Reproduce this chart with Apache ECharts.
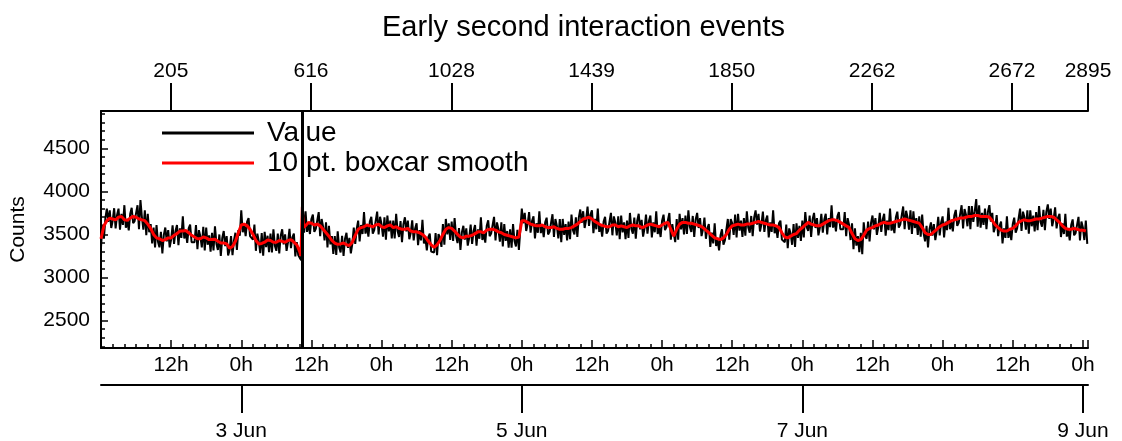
<!DOCTYPE html>
<html>
<head>
<meta charset="utf-8">
<script src="https://cdn.jsdelivr.net/npm/echarts@6/dist/echarts.min.js"></script>
<style>
html,body{margin:0;padding:0;background:#fff;}
#chart{width:1122px;height:441px;}
</style>
</head>
<body>
<div id="chart"></div>
<script>
// ---- data ----
const titleText = 'Early second interaction events';
const seriesNames = ['Value', '10 pt. boxcar smooth'];
const rangeHours = [0, 168.875];           // 2 Jun 00:00 -> 9 Jun ~00:52
const indexRange = [0, 2895];
const rawStepHours = 0.25;
const rawValues = [
3350,3615,3450,3690, 3800,3645,3780,3575, 3660,3805,3570,3725, 3800,3555,3740,3610,
3840,3578,3655,3548, 3740,3810,3630,3655, 3640,3840,3560,3900, 3700,3555,3780,3490,
3740,3525,3620,3395, 3580,3350,3610,3415, 3350,3530,3280,3495, 3580,3420,3550,3350,
3440,3605,3390,3540, 3610,3375,3570,3460, 3710,3453,3535,3403, 3570,3615,3410,3430,
3410,3610,3330,3550, 3480,3350,3590,3315, 3580,3380,3490,3300, 3520,3313,3595,3393,
3320,3500,3250,3460, 3540,3365,3480,3255, 3320,3480,3260,3430, 3520,3320,3550,3485,
3780,3525,3610,3480, 3650,3690,3480,3480, 3440,3615,3310,3510, 3420,3283,3515,3253,
3530,3353,3485,3293, 3510,3290,3560,3370, 3310,3510,3280,3485, 3560,3385,3500,3310,
3410,3565,3340,3465, 3510,3245,3410,3260, 3230,3200,3860,3520, 3770,3530,3630,3505,
3680,3730,3530,3565, 3560,3760,3480,3680, 3590,3430,3640,3350, 3600,3385,3480,3275,
3480,3263,3535,3348, 3290,3485,3250,3450, 3520,3345,3460,3280, 3390,3580,3390,3565,
3660,3420,3610,3505, 3760,3510,3600,3475, 3650,3705,3510,3550, 3550,3765,3500,3705,
3620,3475,3700,3440, 3720,3535,3660,3455, 3660,3455,3740,3540, 3470,3655,3410,3620,
3700,3535,3660,3445, 3520,3665,3430,3570, 3630,3375,3550,3430, 3670,3395,3460,3315,
3470,3510,3300,3315, 3290,3515,3260,3505, 3460,3355,3620,3380, 3680,3500,3630,3435,
3650,3425,3690,3480, 3400,3575,3320,3525, 3600,3440,3570,3370, 3460,3615,3390,3540,
3610,3370,3560,3450, 3700,3435,3510,3405, 3600,3665,3480,3510, 3500,3705,3430,3640,
3560,3415,3640,3360, 3620,3425,3540,3345, 3560,3345,3620,3425, 3360,3555,3320,3300,
3800,3630,3750,3540, 3620,3760,3520,3655, 3710,3455,3630,3520, 3770,3515,3600,3470,
3640,3695,3500,3530, 3520,3735,3470,3680, 3600,3455,3680,3410, 3680,3495,3620,3430,
3650,3445,3730,3550, 3500,3700,3470,3695, 3790,3635,3770,3575, 3670,3825,3600,3730,
3780,3515,3680,3560, 3800,3530,3600,3475, 3650,3705,3510,3540, 3530,3750,3490,3710,
3640,3490,3710,3445, 3720,3525,3640,3445, 3660,3460,3750,3565, 3510,3695,3450,3660,
3740,3560,3670,3475, 3570,3730,3510,3655, 3720,3465,3640,3525, 3770,3505,3580,3470,
3660,3730,3550,3585, 3580,3750,3440,3620, 3510,3410,3680,3440, 3740,3560,3690,3500,
3720,3505,3780,3590, 3530,3715,3470,3675, 3750,3575,3690,3480, 3560,3695,3450,3575,
3620,3355,3520,3395, 3630,3365,3440,3315, 3490,3560,3380,3430, 3440,3680,3440,3680,
3630,3495,3730,3465, 3740,3545,3660,3470, 3690,3485,3770,3580, 3520,3715,3480,3695,
3780,3615,3740,3535, 3620,3765,3530,3665, 3720,3465,3640,3530, 3780,3515,3590,3460,
3630,3660,3440,3445, 3410,3615,3340,3570, 3510,3380,3620,3355, 3630,3460,3600,3425,
3660,3465,3760,3585, 3540,3720,3470,3675, 3750,3575,3690,3490, 3580,3740,3520,3670,
3740,3500,3690,3585, 3840,3580,3660,3535, 3710,3760,3560,3580, 3560,3760,3480,3690,
3610,3435,3630,3330, 3570,3370,3480,3295, 3520,3270,3640,3480, 3450,3650,3420,3635,
3720,3560,3690,3495, 3590,3750,3530,3675, 3740,3485,3660,3550, 3800,3545,3630,3515,
3700,3765,3580,3615, 3610,3825,3560,3775, 3700,3555,3780,3505, 3770,3575,3690,3495,
3710,3475,3730,3510, 3420,3600,3350,3560, 3640,3485,3620,3435, 3540,3705,3490,3640,
3710,3465,3650,3550, 3810,3560,3650,3535, 3720,3785,3600,3635, 3630,3840,3570,3795,
3730,3595,3830,3560, 3830,3645,3770,3910, 3590,3840,3580,3750, 3610,3800,3560,3765,
3840,3650,3750,3525, 3590,3725,3480,3600, 3650,3395,3570,3460, 3710,3460,3550,3435,
3620,3695,3520,3570, 3580,3800,3540,3765, 3700,3555,3780,3510, 3780,3595,3720,3535,
3760,3550,3830,3645, 3590,3785,3550,3765, 3850,3680,3800,3595, 3680,3815,3570,3695,
3740,3470,3630,3505, 3740,3475,3550,3430, 3610,3675,3490,3515, 3500,3705,3430,3650,
3580,3435,3660,3390
];
const smoothStepHours = 0.5;
const smoothValues = [
3450,3600, 3660,3690, 3680,3670, 3700,3710, 3670,3665, 3690,3710, 3700,3680, 3670,3660, 3620,3570, 3500,3460,
3450,3430, 3440,3460, 3460,3490, 3510,3540, 3540,3545, 3520,3490, 3470,3450, 3450,3470, 3460,3440, 3440,3445,
3420,3400, 3400,3390, 3340,3360, 3420,3520, 3610,3620, 3600,3560, 3500,3430, 3390,3395, 3410,3435, 3430,3410,
3410,3430, 3420,3410, 3430,3440, 3410,3380, 3300,3720, 3600,3640, 3630,3610, 3620,3600, 3560,3520, 3480,3430,
3400,3385, 3390,3400, 3380,3370, 3410,3490, 3560,3580, 3590,3610, 3600,3590, 3610,3620, 3590,3580, 3600,3610,
3580,3590, 3570,3560, 3560,3570, 3540,3530, 3530,3520, 3500,3470, 3420,3380, 3350,3380, 3430,3500, 3560,3580,
3570,3540, 3500,3470, 3460,3480, 3480,3490, 3510,3530, 3530,3520, 3550,3560, 3560,3550, 3530,3520, 3500,3490,
3480,3470, 3460,3470, 3660,3660, 3640,3620, 3610,3600, 3600,3610, 3590,3580, 3580,3590, 3570,3560, 3560,3570,
3570,3580, 3600,3620, 3650,3680, 3690,3700, 3680,3650, 3630,3610, 3600,3590, 3590,3610, 3610,3590, 3600,3590,
3580,3600, 3610,3600, 3600,3580, 3590,3610, 3620,3610, 3600,3590, 3610,3630, 3640,3560, 3480,3560, 3620,3640,
3640,3630, 3630,3620, 3610,3600, 3580,3550, 3520,3490, 3460,3450, 3440,3460, 3500,3560, 3600,3610, 3620,3610,
3610,3620, 3620,3630, 3640,3650, 3640,3630, 3620,3610, 3610,3600, 3580,3520, 3470,3460, 3480,3500, 3510,3550,
3580,3610, 3640,3620, 3610,3600, 3600,3620, 3640,3660, 3670,3670, 3660,3640, 3620,3600, 3580,3510, 3450,3430,
3440,3490, 3550,3570, 3580,3600, 3610,3630, 3640,3630, 3630,3640, 3650,3660, 3670,3680, 3670,3660, 3650,3640,
3630,3580, 3520,3500, 3500,3530, 3560,3590, 3610,3620, 3640,3660, 3670,3680, 3690,3690, 3700,3710, 3710,3720,
3720,3710, 3710,3710, 3700,3660, 3610,3580, 3550,3540, 3540,3560, 3570,3600, 3640,3660, 3670,3660, 3660,3670,
3680,3680, 3690,3700, 3710,3710, 3700,3670, 3640,3600, 3570,3560, 3560,3570, 3560,3550, 3550,3540
];
const spikeHours = [34.2, 34.45, 34.7];
const spikeValues = [3250, 3820, 3580];
const markerHour = 34.4;
const topTickValues = [205, 616, 1028, 1439, 1850, 2262, 2672, 2895];
const dateTickHours = [24, 72, 120, 168];
const dateLabels = ['3 Jun', '5 Jun', '7 Jun', '9 Jun'];
const yRange = [2180, 4935];
const yLabelValues = [2500, 3000, 3500, 4000, 4500];
const yMinorStep = 100;

// ---- build ----
const rawData = rawValues.map((v, i) => [i * rawStepHours, v]);
const smoothData = smoothValues.map((v, i) => [i * smoothStepHours, v])
  .concat(spikeHours.map((h, i) => [h, spikeValues[i]]))
  .sort((a, b) => a[0] - b[0]);
const yMinorTicks = [];
for (let v = Math.ceil(yRange[0] / yMinorStep) * yMinorStep; v <= yRange[1]; v += yMinorStep) yMinorTicks.push(v);

const FONT = 'Liberation Sans';
const axisLineStyle = { color: '#000', width: 2 };
const plain = v => String(Math.round(v));
const chart = echarts.init(document.getElementById('chart'), null, { renderer: 'canvas' });
chart.setOption({
  animation: false,
  backgroundColor: '#fff',
  textStyle: { fontFamily: FONT, color: '#000' },
  title: {
    text: titleText, left: 382, top: 13, padding: 0,
    textStyle: { fontFamily: FONT, fontSize: 29, fontWeight: 'normal', color: '#000' }
  },
  legend: {
    left: 157, top: 114, orient: 'vertical', icon: 'rect',
    itemWidth: 92, itemHeight: 3, itemGap: 2,
    textStyle: { fontFamily: FONT, fontSize: 28, color: '#000', lineHeight: 28, padding: [0, 0, 0, 8] },
    data: seriesNames
  },
  grid: { left: 101, right: 34, top: 111, bottom: 93, containLabel: false, outerBoundsMode: 'none' },
  xAxis: [
    {
      type: 'value', min: rangeHours[0], max: rangeHours[1], interval: 12, position: 'bottom',
      axisLine: { show: true, onZero: false, lineStyle: axisLineStyle },
      axisTick: { show: true, inside: true, length: 8, lineStyle: { color: '#000', width: 1.5 } },
      minorTick: { show: true, splitNumber: 6, length: 4, lineStyle: { color: '#000', width: 1.5 } },
      splitLine: { show: false }, minorSplitLine: { show: false },
      axisLabel: {
        showMinLabel: false, showMaxLabel: false, margin: 7,
        fontFamily: FONT, fontSize: 21, color: '#000',
        formatter: v => (Math.round(v) % 24 === 0 ? '0h' : '12h')
      }
    },
    {
      type: 'value', min: rangeHours[0], max: rangeHours[1], position: 'bottom', offset: 37,
      axisLine: { show: true, onZero: false, lineStyle: axisLineStyle },
      axisTick: { show: true, inside: false, length: 28, customValues: dateTickHours, lineStyle: { color: '#000', width: 2 } },
      splitLine: { show: false },
      axisLabel: {
        customValues: dateTickHours, margin: 36,
        fontFamily: FONT, fontSize: 21, color: '#000',
        formatter: v => dateLabels[dateTickHours.indexOf(Math.round(v))] || ''
      }
    },
    {
      type: 'value', min: indexRange[0], max: indexRange[1], position: 'top',
      axisLine: { show: true, onZero: false, lineStyle: axisLineStyle },
      axisTick: { show: true, inside: false, length: 28, customValues: topTickValues, lineStyle: { color: '#000', width: 2 } },
      splitLine: { show: false },
      axisLabel: {
        customValues: topTickValues, margin: 29, formatter: plain,
        fontFamily: FONT, fontSize: 21, color: '#000'
      }
    }
  ],
  yAxis: [
    {
      type: 'value', min: yRange[0], max: yRange[1], position: 'left',
      name: 'Counts', nameLocation: 'middle', nameGap: 72, nameRotate: 90,
      nameTextStyle: { fontFamily: FONT, fontSize: 21, color: '#000' },
      axisLine: { show: true, onZero: false, lineStyle: axisLineStyle },
      axisTick: { show: true, inside: true, length: 7, customValues: yLabelValues, lineStyle: { color: '#000', width: 1.5 } },
      splitLine: { show: false },
      axisLabel: { customValues: yLabelValues, margin: 11, formatter: plain, fontFamily: FONT, fontSize: 21, color: '#000' }
    },
    {
      type: 'value', min: yRange[0], max: yRange[1], position: 'left', offset: 0,
      axisLine: { show: false },
      axisTick: { show: true, inside: true, length: 4, customValues: yMinorTicks, lineStyle: { color: '#000', width: 1.5 } },
      splitLine: { show: false },
      axisLabel: { show: false }
    }
  ],
  series: [
    {
      name: seriesNames[0], type: 'line', xAxisIndex: 0, yAxisIndex: 0,
      data: rawData, showSymbol: false, symbol: 'none', color: '#000',
      lineStyle: { color: '#000', width: 2 },
      markLine: {
        silent: true, symbol: ['none', 'none'], label: { show: false },
        lineStyle: { color: '#000', width: 3, type: 'solid' },
        data: [{ xAxis: markerHour }]
      },
      z: 2
    },
    {
      name: seriesNames[1], type: 'line', xAxisIndex: 0, yAxisIndex: 0,
      data: smoothData, showSymbol: false, symbol: 'none', color: '#ff0000',
      lineStyle: { color: '#ff0000', width: 3 },
      z: 3
    }
  ]
});
</script>
</body>
</html>
